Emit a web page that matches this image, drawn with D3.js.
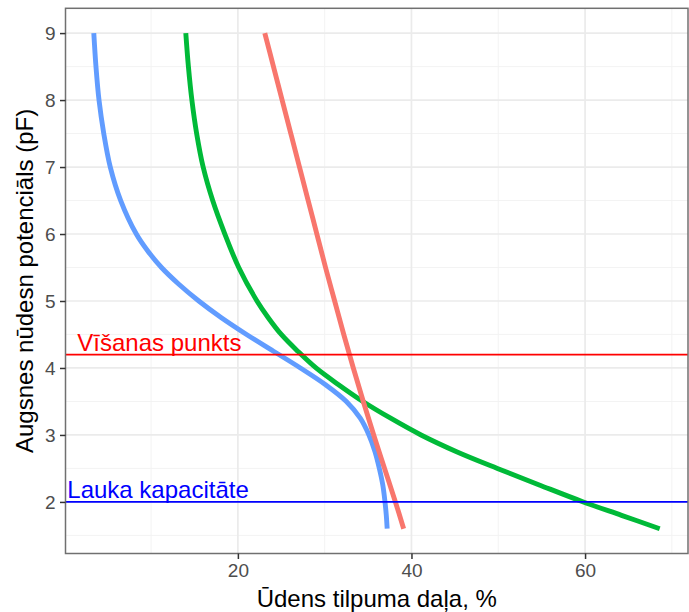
<!DOCTYPE html>
<html><head><meta charset="utf-8">
<script src="https://cdn.jsdelivr.net/npm/d3@7"></script>
<style>body{margin:0;background:#fff}svg{display:block}text{font-family:"Liberation Sans",Arial,sans-serif}</style>
</head><body><svg id="c" width="689" height="612"></svg>
<script>
// pF values (y) and water content % (x)
const bluePF = [9.0,8.5,8.0,7.5,7.0,6.5,6.0,5.75,5.5,5.25,5.0,4.75,4.5,4.25,4.0,3.75,3.5,3.25,3.0,2.75,2.5,2.25,2.0,1.8,1.6];
const blueX  = [3.4,3.65,4.0,4.55,5.3,6.5,8.3,9.6,11.2,13.2,15.5,18.1,21.0,24.1,27.2,30.1,32.5,34.1,35.1,35.8,36.3,36.7,36.95,37.1,37.2];
const greenPF = [9.0,8.5,8.0,7.5,7.0,6.5,6.0,5.5,5.0,4.75,4.5,4.25,4.0,3.75,3.5,3.25,3.0,2.75,2.5,2.25,2.0,1.8,1.6];
const greenX  = [14.0,14.3,14.7,15.25,16.0,17.1,18.5,20.1,22.2,23.5,25.0,26.9,29.0,31.6,34.4,37.6,41.1,45.2,49.9,54.8,59.8,64.2,68.6];
const redPF = [9.0,8.5,8.0,7.5,7.0,6.5,6.0,5.5,5.0,4.5,4.0,3.5,3.0,2.5,2.0,1.6];
const redX  = [23.1,24.1,25.1,26.1,27.1,28.1,29.1,30.1,31.15,32.2,33.3,34.45,35.65,36.9,38.15,39.1];
const hLineValues = [4.2, 2.0];
const hLineLabels = ["Vīšanas punkts", "Lauka kapacitāte"];
const hLineLabelX = [1.5, 0.35];
const xTicks = [20, 40, 60];
const yTicks = [2,3,4,5,6,7,8,9];
const xTitle = "Ūdens tilpuma daļa, %";
const yTitle = "Augsnes nūdesn potenciāls (pF)";

const series = [
  {pf: bluePF, x: blueX, color: "#619CFF"},
  {pf: greenPF, x: greenX, color: "#00BA38"},
  {pf: redPF, x: redX, color: "#F8766D"}
];
const hColors = ["#FF0000", "#0000FF"];

const svg = d3.select("#c");
const L = 65.5, T = 8.3, R = 688, B = 553.5;

const allX = [...blueX, ...greenX, ...redX];
const allY = [...bluePF, ...greenPF, ...redPF];
const [x0, x1] = d3.extent(allX), [y0, y1] = d3.extent(allY);
const ex = (x1 - x0) * 0.05, ey = (y1 - y0) * 0.05;
const x = d3.scaleLinear().domain([x0 - ex, x1 + ex]).range([L, R]);
const y = d3.scaleLinear().domain([y0 - ey, y1 + ey]).range([B, T]);

// grid
const g = svg.append("g");
const xMinor = d3.range(10, 80, 20).filter(v => v > x.domain()[0] && v < x.domain()[1]);
const yMinor = d3.range(1.5, 9.6, 1).filter(v => v > y.domain()[0] && v < y.domain()[1]);
g.selectAll(".xmn").data(xMinor).join("line").attr("x1", d => x(d)).attr("x2", d => x(d)).attr("y1", T).attr("y2", B).attr("stroke", "#F2F2F2").attr("stroke-width", 0.9);
g.selectAll(".ymn").data(yMinor).join("line").attr("y1", d => y(d)).attr("y2", d => y(d)).attr("x1", L).attr("x2", R).attr("stroke", "#F2F2F2").attr("stroke-width", 0.9);
g.selectAll(".xmj").data(xTicks).join("line").attr("x1", d => x(d)).attr("x2", d => x(d)).attr("y1", T).attr("y2", B).attr("stroke", "#EBEBEB").attr("stroke-width", 1.7);
g.selectAll(".ymj").data(yTicks).join("line").attr("y1", d => y(d)).attr("y2", d => y(d)).attr("x1", L).attr("x2", R).attr("stroke", "#EBEBEB").attr("stroke-width", 1.7);

// curves
const line = d3.line().x(d => x(d[0])).y(d => y(d[1])).curve(d3.curveCatmullRom.alpha(0.5));
series.forEach(s => {
  svg.append("path").datum(s.x.map((v, i) => [v, s.pf[i]]))
    .attr("d", line).attr("fill", "none").attr("stroke", s.color).attr("stroke-width", 4.9);
});

// horizontal reference lines and labels
hLineValues.forEach((v, i) => {
  svg.append("line").attr("x1", L).attr("x2", R).attr("y1", y(v)).attr("y2", y(v))
    .attr("stroke", hColors[i]).attr("stroke-width", 1.8);
  svg.append("text").attr("x", x(hLineLabelX[i])).attr("y", y(v) - 4)
    .attr("fill", hColors[i]).attr("font-size", 24).text(hLineLabels[i]);
});

// panel border
svg.append("rect").attr("x", L).attr("y", T).attr("width", R - L).attr("height", B - T)
  .attr("fill", "none").attr("stroke", "#707070").attr("stroke-width", 1.5);

// axes
const xa = svg.append("g").attr("transform", `translate(0,${B})`)
  .call(d3.axisBottom(x).tickValues(xTicks).tickSize(5.5).tickPadding(4.5).tickFormat(d3.format("d")));
const ya = svg.append("g").attr("transform", `translate(${L},0)`)
  .call(d3.axisLeft(y).tickValues(yTicks).tickSize(5.5).tickPadding(4.5).tickFormat(d3.format("d")));
[xa, ya].forEach(a => {
  a.select(".domain").remove();
  a.selectAll(".tick line").attr("stroke", "#333").attr("stroke-width", 1.5);
  a.selectAll(".tick text").attr("fill", "#4D4D4D").attr("font-size", 19).attr("font-family", '"Liberation Sans",Arial,sans-serif');
});

svg.append("text").attr("x", (L + R) / 2).attr("y", 607).attr("text-anchor", "middle")
  .attr("font-size", 24).attr("fill", "#000").text(xTitle);
svg.append("text").attr("transform", `translate(33,${(T + B) / 2}) rotate(-90)`).attr("text-anchor", "middle")
  .attr("font-size", 24).attr("fill", "#000").text(yTitle);
</script></body></html>
